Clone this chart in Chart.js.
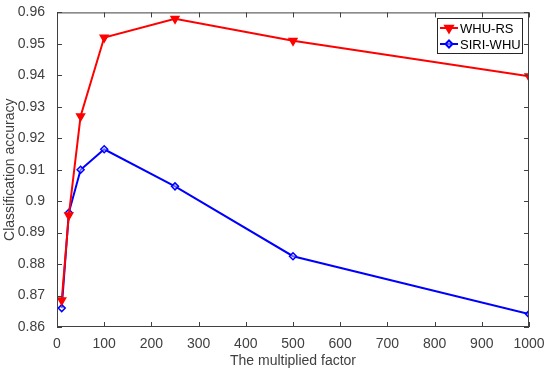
<!DOCTYPE html>
<html>
<head>
<meta charset="utf-8">
<script src="https://cdn.jsdelivr.net/npm/chart.js@4"></script>
<style>
  body { margin: 0; background: #fff; }
  #wrap { width: 550px; height: 374px; }
</style>
</head>
<body>
<div id="wrap"><canvas id="chart" width="550" height="374"></canvas></div>
<script>
// data
var factors = [10, 25, 50, 100, 250, 500, 1000]
var whuRS = [0.8685, 0.8955, 0.927, 0.952, 0.958, 0.951, 0.9397]
var siriWHU = [0.866, 0.8963, 0.910, 0.9165, 0.9047, 0.8825, 0.8641]
var seriesNames = ["WHU-RS", "SIRI-WHU"]
var yTicks = [0.86, 0.87, 0.88, 0.89, 0.9, 0.91, 0.92, 0.93, 0.94, 0.95, 0.96]
var xTicks = [0, 100, 200, 300, 400, 500, 600, 700, 800, 900, 1000]

var axisColor = "#404040"
var font = "Arial, 'Liberation Sans', sans-serif"

function toPoints(ys) {
    return factors.map(function (x, i) { return { x: x, y: ys[i] } })
}

// box round the plot with inward ticks, like the original
var frame = {
    id: "frame",
    afterDraw: function (chart) {
        var ctx = chart.ctx
        var a = chart.chartArea
        var xs = chart.scales.x
        var ys = chart.scales.y
        ctx.save()
        ctx.strokeStyle = axisColor
        ctx.lineWidth = 1
        ctx.strokeRect(a.left + 0.5, a.top + 0.5, a.right - a.left - 1, a.bottom - a.top - 1)
        ctx.beginPath()
        xTicks.forEach(function (t) {
            var px = Math.round(xs.getPixelForValue(t)) + 0.5
            ctx.moveTo(px, a.bottom); ctx.lineTo(px, a.bottom - 5)
            ctx.moveTo(px, a.top); ctx.lineTo(px, a.top + 5)
        })
        yTicks.forEach(function (t) {
            var py = Math.round(ys.getPixelForValue(t)) + 0.5
            ctx.moveTo(a.left, py); ctx.lineTo(a.left + 5, py)
            ctx.moveTo(a.right, py); ctx.lineTo(a.right - 5, py)
        })
        ctx.stroke()

        // legend box
        var bx = 437, by = 18, bw = 85, bh = 35
        ctx.fillStyle = "#fff"
        ctx.fillRect(bx, by, bw, bh)
        ctx.strokeStyle = "#262626"
        ctx.strokeRect(bx + 0.5, by + 0.5, bw, bh)
        chart.data.datasets.forEach(function (ds, i) {
            var yy = by + 10 + i * 16
            ctx.strokeStyle = ds.borderColor
            ctx.lineWidth = 2
            ctx.beginPath()
            ctx.moveTo(bx + 3, yy); ctx.lineTo(bx + 21, yy)
            ctx.stroke()
            ctx.fillStyle = ds.pointBackgroundColor
            ctx.strokeStyle = ds.borderColor
            Chart.helpers.drawPoint(ctx, {
                pointStyle: ds.pointStyle, radius: ds.pointRadius,
                rotation: ds.pointRotation, borderWidth: 1.5
            }, bx + 12, yy)
            ctx.fillStyle = "#000"
            ctx.font = "13px " + font
            ctx.textBaseline = "middle"
            ctx.fillText(seriesNames[i], bx + 23, yy + 1)
        })
        ctx.restore()
    }
}

new Chart(document.getElementById("chart").getContext("2d"), {
    type: "line",
    data: {
        datasets: [{
            label: seriesNames[0],
            data: toPoints(whuRS),
            borderColor: "#ff0000",
            borderWidth: 2,
            pointStyle: "triangle",
            pointRotation: 180,
            pointRadius: 4.5,
            pointBorderWidth: 1.5,
            pointBackgroundColor: "#ff0000",
            tension: 0
        }, {
            label: seriesNames[1],
            data: toPoints(siriWHU),
            borderColor: "#0000ff",
            borderWidth: 2,
            pointStyle: "rectRot",
            pointRadius: 3.5,
            pointBorderWidth: 1.5,
            pointBackgroundColor: "rgba(255,255,255,0.4)",
            tension: 0
        }]
    },
    options: {
        responsive: false,
        animation: false,
        layout: { padding: { top: 10, right: 21 } },
        plugins: { legend: { display: false }, tooltip: { enabled: false } },
        scales: {
            x: {
                type: "linear", min: 0, max: 1000,
                afterBuildTicks: function (s) { s.ticks = xTicks.map(function (v) { return { value: v } }) },
                afterFit: function (s) { s.height = 47 },
                grid: { display: false },
                border: { display: false },
                ticks: {
                    color: axisColor, font: { size: 14, family: font }, padding: 1, maxRotation: 0,
                    callback: function (v) { return String(v) }
                },
                title: { display: true, text: "The multiplied factor", color: axisColor, font: { size: 14, family: font }, padding: { top: 3 } }
            },
            y: {
                type: "linear", min: 0.86, max: 0.96,
                afterBuildTicks: function (s) { s.ticks = yTicks.map(function (v) { return { value: v } }) },
                afterFit: function (s) { s.width = 57 },
                grid: { display: false },
                border: { display: false },
                ticks: {
                    color: axisColor, font: { size: 14, family: font }, padding: 4,
                    callback: function (v) { return String(Number(v.toFixed(2))) }
                },
                title: { display: true, text: "Classification accuracy", color: axisColor, font: { size: 14, family: font }, padding: { top: 2, bottom: 2 } }
            }
        }
    },
    plugins: [frame]
})
</script>
</body>
</html>
